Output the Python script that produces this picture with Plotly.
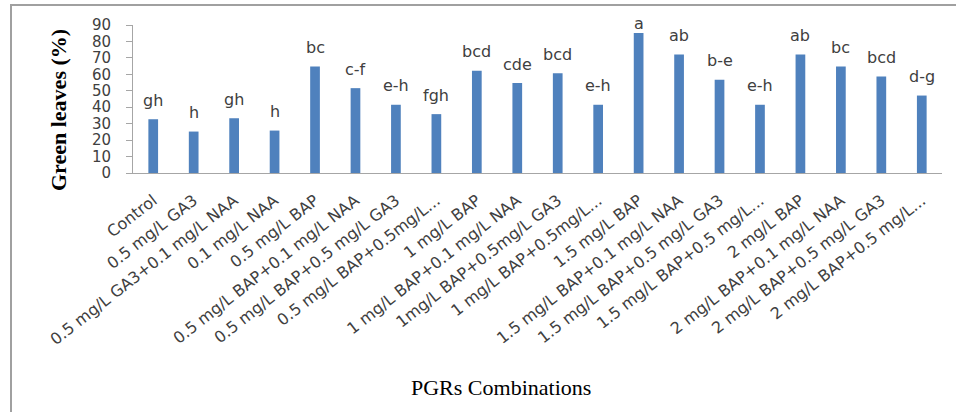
import plotly.graph_objects as go

categories = [
    "Control", "0.5 mg/L GA3", "0.5 mg/L GA3+0.1 mg/L NAA", "0.1 mg/L NAA",
    "0.5 mg/L BAP", "0.5 mg/L BAP+0.1 mg/L NAA", "0.5 mg/L BAP+0.5 mg/L GA3",
    "0.5 mg/L BAP+0.5mg/L...", "1 mg/L BAP", "1 mg/L BAP+0.1 mg/L NAA",
    "1mg/L BAP+0.5mg/L GA3", "1 mg/L BAP+0.5mg/L...", "1.5 mg/L BAP",
    "1.5 mg/L BAP+0.1 mg/L NAA", "1.5 mg/L BAP+0.5 mg/L GA3",
    "1.5 mg/L BAP+0.5 mg/L...", "2 mg/L BAP", "2 mg/L BAP+0.1 mg/L NAA",
    "2 mg/L BAP+0.5 mg/L GA3", "2 mg/L BAP+0.5 mg/L...",
]
values = [32.7, 25.2, 33.3, 25.8, 64.8, 51.6, 41.5, 35.8, 62.2, 54.7,
          60.6, 41.5, 85.2, 72.0, 56.7, 41.5, 72.0, 64.8, 58.7, 47.1]
letters = ["gh", "h", "gh", "h", "bc", "c-f", "e-h", "fgh", "bcd", "cde",
           "bcd", "e-h", "a", "ab", "b-e", "e-h", "ab", "bc", "bcd", "d-g"]
y_ticks = [0, 10, 20, 30, 40, 50, 60, 70, 80, 90]

Y_MAX = 90
LABEL_GAP = 7.5      # data units between bar top and label baseline
LABEL_CAP = 86.8     # labels are kept inside the plot area

SANS = "DejaVu Sans, Open Sans, sans-serif"
SERIF = "Liberation Serif, serif"

fig = go.Figure(go.Bar(
    x=categories, y=values, width=0.24,
    marker=dict(color="#4F81BD", line=dict(width=0)),
))

annotations = []
for c, v, t in zip(categories, values, letters):
    annotations.append(dict(
        x=c, y=min(v + LABEL_GAP, LABEL_CAP), xref="x", yref="y",
        text=t, showarrow=False, xanchor="center", yanchor="bottom",
        yshift=-5,
        font=dict(family=SANS, size=16, color="#404040"),
    ))

annotations += [
    dict(text="<b>Green leaves (%)</b>", xref="paper", yref="paper",
         x=(58 - 133) / 809, y=(173 - 110) / 148, textangle=-90, showarrow=False,
         xanchor="center", yanchor="middle",
         font=dict(family=SERIF, size=22, color="black")),
    dict(text="PGRs Combinations", xref="paper", yref="paper",
         x=(501 - 133) / 809, y=(173 - 387) / 148, showarrow=False,
         xanchor="center", yanchor="middle",
         font=dict(family=SERIF, size=22, color="black")),
]

fig.update_layout(
    width=956, height=412,
    margin=dict(l=133, r=14, t=25, b=239, autoexpand=False),
    paper_bgcolor="white", plot_bgcolor="white",
    showlegend=False,
    xaxis=dict(
        type="category", tickangle=-38, showgrid=False, automargin=False,
        showline=True, linecolor="#A6A6A6", linewidth=1,
        ticks="", ticklabelstandoff=11,
        tickfont=dict(family=SANS, size=16, color="#404040"),
    ),
    yaxis=dict(
        range=[0, Y_MAX], tickvals=y_ticks, showgrid=False, zeroline=False,
        showline=True, linecolor="#A6A6A6", linewidth=1, automargin=False,
        ticks="outside", ticklen=6, tickcolor="#A6A6A6", ticklabelstandoff=12,
        tickfont=dict(family=SANS, size=15, color="#404040"),
    ),
    annotations=annotations,
    shapes=[
        dict(type="rect", xref="paper", yref="paper",
             x0=(11 - 133) / 809, x1=1.2, y0=-2.0, y1=(173 - 5) / 148,
             line=dict(color="#A0A0A0", width=2), fillcolor="rgba(0,0,0,0)"),
    ],
)

fig.write_html("out.html", config={"displayModeBar": False},
               post_script="document.body.style.margin='0';document.body.style.overflow='hidden';")
